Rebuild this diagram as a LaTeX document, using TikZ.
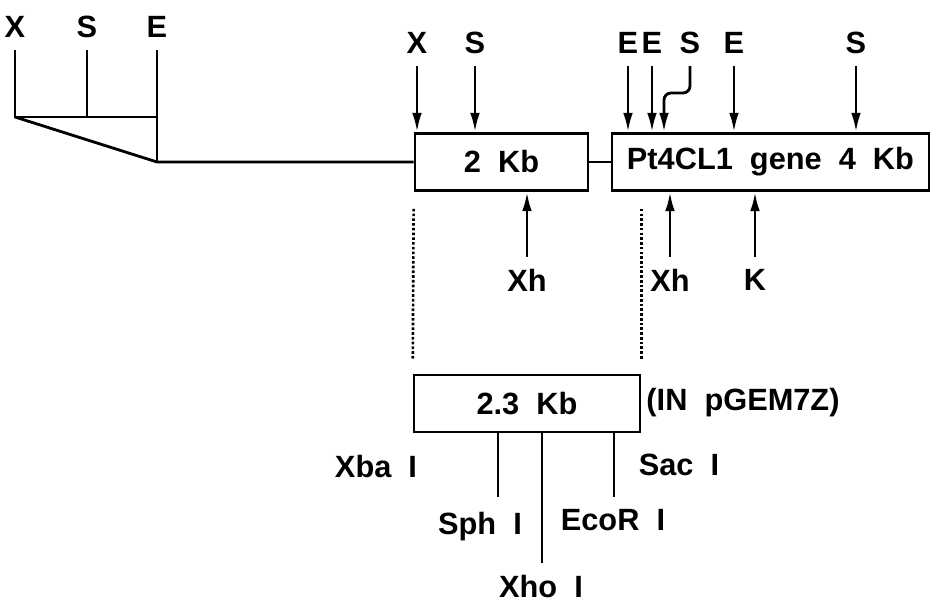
\documentclass[tikz,border=0pt]{standalone}
\usepackage{fontspec}
\setmainfont{Liberation Sans}[WordSpace=2]
\usetikzlibrary{arrows.meta,positioning,calc}
\newcommand\sitefont{\fontsize{17.5}{20}\selectfont\bfseries}

\begin{document}
\begin{tikzpicture}[x=0.02cm,y=-0.02cm,
  seg/.style={draw,line width=1.5pt,minimum height=1.14cm,inner sep=0pt,font=\sitefont},
  site/.style={inner sep=0pt,font=\sitefont},
  tick/.style={line width=1.6pt,shorten <=0.24cm},
  arr/.style={tick,-{Latex[length=11pt,width=5.5pt]}},
  dots/.style={line width=1.5pt,dash pattern=on 1.5pt off 1.2pt},
]
\useasboundingbox (0,0) rectangle (931,609);
% clones
\node[seg,minimum width=3.46cm] (frag) at (501.5,162) {2 Kb};
\node[seg,minimum width=6.34cm] (gene) at (770.5,162) {Pt4CL1 gene 4 Kb};
\node[seg,minimum width=4.52cm] (sub) at (527,403.5) {2.3 Kb};
\node[site] (plasmid) at (743,403) {(IN pGEM7Z)};
\draw[line width=1.6pt] (frag) -- (gene);

% vector arm
\node[site] (vX) at (15,27) {X};
\node[site] (vS) at (87,27) {S};
\node[site] (vE) at (157,27) {E};
\coordinate (vecL) at (15,117);
\coordinate (vecR) at (157,162);
\draw[tick] (vX) -- (vecL) -- (vecL -| vE);
\draw[tick] (vS) -- (vS |- vecL);
\draw[tick] (vE) -- (vecR);
\draw[line width=1.6pt] (vecL) -- (vecR) -- (frag.west);

% sites above
\node[site] (x1) at (417,43) {X};
\node[site] (s1) at (475,43) {S};
\node[site] (e1) at (628,43) {E};
\node[site] (e2) at (652,43) {E};
\node[site] (s2) at (690,43) {S};
\node[site] (e3) at (734,43) {E};
\node[site] (s3) at (856,43) {S};
\foreach \s in {x1,s1,e1,e2,e3,s3}
  \draw[arr] (\s) -- (\s |- frag.north);
\coordinate (kink) at (664,93);
\draw[arr,rounded corners=4pt] (s2) -- (s2 |- kink) -- (kink) -- (kink |- gene.north);

% sites below
\node[site] (xh1) at (527,280) {Xh};
\node[site] (xh2) at (670,280) {Xh};
\node[site] (k1) at (755,280) {K};
\foreach \s in {xh1,xh2,k1}
  \draw[arr] (\s) -- (\s |- frag.south);

% subclone
\draw[dots,shorten <=0.34cm,shorten >=0.3cm] (frag.south west) -- (sub.north west);
\draw[dots,shorten <=0.34cm,shorten >=0.3cm] (sub.north east |- frag.south) -- (sub.north east);
\coordinate (cSph) at (498,497);
\coordinate (cXho) at (542,563);
\coordinate (cEco) at (614,497);
\foreach \c in {cSph,cXho,cEco}
  \draw[line width=1.6pt] (sub.south -| \c) -- (\c);
\node[site] (xba) at (376,467) {Xba I};
\node[site] (sac) at (679,465) {Sac I};
\node[site] (sph) at (480,527) {Sph I};
\node[site] (eco) at (613,520) {EcoR I};
\node[site] (xho) at (541,587) {Xho I};
\end{tikzpicture}
\end{document}
